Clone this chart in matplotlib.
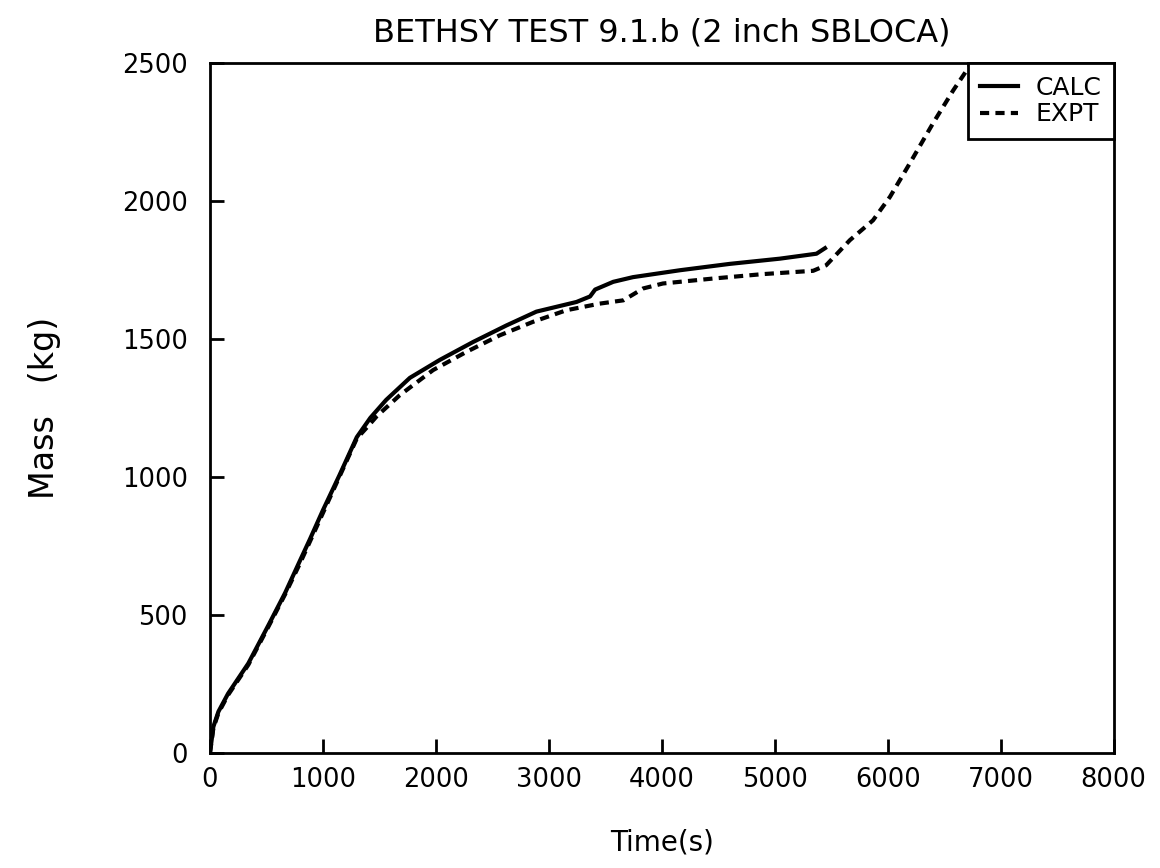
import matplotlib
matplotlib.use('Agg')
import matplotlib.pyplot as plt

# Data
calc_t = [0, 30, 75, 160, 340, 520, 665, 800, 885, 1000, 1150, 1300, 1420, 1560,
          1770, 2035, 2330, 2625, 2890, 3245, 3365, 3410, 3570, 3745, 4160, 4600,
          5045, 5370, 5445]
calc_m = [0, 95, 150, 215, 325, 465, 580, 700, 775, 880, 1010, 1145, 1215, 1280,
          1360, 1425, 1490, 1550, 1600, 1635, 1655, 1680, 1708, 1725, 1750, 1773,
          1792, 1810, 1830]

expt_t = [0, 30, 75, 160, 340, 520, 665, 800, 900, 1000, 1150, 1300, 1400, 1475,
          1680, 1975, 2270, 2565, 2860, 3155, 3450, 3660, 3835, 4010, 4455, 4895,
          5340, 5455, 5665, 5870, 6020, 6195, 6400, 6580, 6700, 6740]
expt_m = [0, 90, 145, 210, 320, 460, 575, 690, 780, 870, 1005, 1140, 1185, 1220,
          1297, 1388, 1454, 1514, 1563, 1605, 1629, 1641, 1684, 1702, 1720, 1736,
          1748, 1768, 1859, 1931, 2016, 2137, 2282, 2402, 2475, 2500]

x_ticks = [0, 1000, 2000, 3000, 4000, 5000, 6000, 7000, 8000]
y_ticks = [0, 500, 1000, 1500, 2000, 2500]

plt.rcParams['font.family'] = ['DejaVu Sans']

fig = plt.figure(figsize=(11.6, 8.68), dpi=100)
ax = fig.add_axes([0.181, 0.1325, 0.779, 0.7945])

ax.plot(calc_t, calc_m, color='black', lw=3.0, label='CALC')
ax.plot(expt_t, expt_m, color='black', lw=3.0, dashes=(2.2, 1.5), label='EXPT')

ax.set_xlim(0, 8000)
ax.set_ylim(0, 2500)
ax.set_xticks(x_ticks)
ax.set_yticks(y_ticks)
ax.tick_params(direction='in', length=10, width=2, labelsize=18.5,
               top=False, right=False)
ax.tick_params(axis='x', pad=10)
ax.tick_params(axis='y', pad=16)
for s in ax.spines.values():
    s.set_linewidth(2)

ax.set_title('BETHSY TEST 9.1.b (2 inch SBLOCA)', fontsize=23, pad=16)
ax.set_xlabel('Time(s)', fontsize=20, labelpad=26)
ax.set_ylabel('Mass   (kg)', fontsize=24, labelpad=44)

leg = ax.legend(loc='upper right', fontsize=18, handlelength=1.5,
                borderaxespad=0, fancybox=False, framealpha=1,
                labelspacing=0.1, handletextpad=0.7, borderpad=0.5)
leg.get_frame().set_edgecolor('black')
leg.get_frame().set_linewidth(2)

fig.savefig('out.png', dpi=100)
